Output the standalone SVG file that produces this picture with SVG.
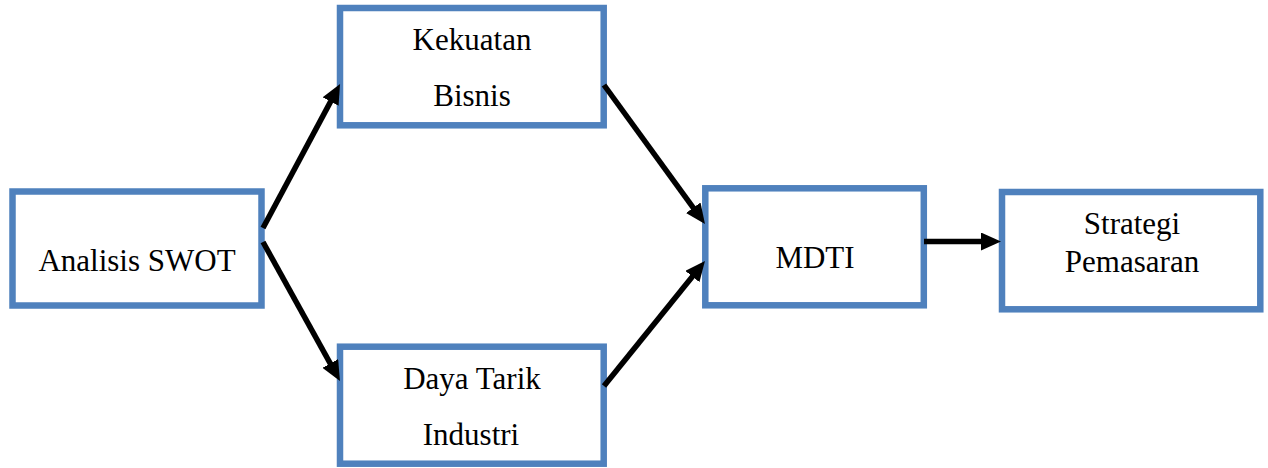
<svg xmlns="http://www.w3.org/2000/svg" width="1268" height="468" viewBox="0 0 1268 468">
  <style>
    .box { fill: #ffffff; stroke: #4F81BD; stroke-width: 6.5; }
    .conn { stroke: #000000; stroke-width: 5.5; fill: none; marker-end: url(#arrow); }
  </style>
  <defs>
    <marker id="arrow" markerUnits="userSpaceOnUse" markerWidth="20" markerHeight="18" refX="11" refY="9" orient="auto" viewBox="0 0 20 18">
      <path d="M0,0 L20,9 L0,18 z" fill="#000000"/>
    </marker>
  </defs>
  <rect width="1268" height="468" fill="#ffffff"/>
  <g font-family="Liberation Serif, DejaVu Serif, serif" font-size="31" fill="#000000" text-anchor="middle">
  <g id="node-swot">
    <rect class="box" x="12.5" y="191.5" width="249" height="114"/>
    <text x="137" y="271">Analisis SWOT</text>
  </g>
  <g id="node-kekuatan">
    <rect class="box" x="340" y="8" width="263.7" height="117.3"/>
    <text x="472" y="50">Kekuatan</text>
    <text x="472" y="106">Bisnis</text>
  </g>
  <g id="node-daya-tarik">
    <rect class="box" x="340" y="346.7" width="263.7" height="117"/>
    <text x="472" y="389">Daya Tarik</text>
    <text x="471" y="445">Industri</text>
  </g>
  <g id="node-mdti">
    <rect class="box" x="705.3" y="188.3" width="218.5" height="117"/>
    <text x="815" y="268">MDTI</text>
  </g>
  <g id="node-strategi">
    <rect class="box" x="1002" y="192" width="258.3" height="117.3"/>
    <text x="1132" y="234">Strategi</text>
    <text x="1132" y="272">Pemasaran</text>
  </g>
  </g>
  <g id="connectors">
    <line class="conn" x1="263" y1="228" x2="335.8" y2="91.9"/>
    <line class="conn" x1="263" y1="242" x2="335.6" y2="373.1"/>
    <line class="conn" x1="604" y1="85" x2="699.7" y2="216.7"/>
    <line class="conn" x1="604" y1="386" x2="699.3" y2="268"/>
    <line class="conn" x1="924" y1="241.5" x2="992" y2="241.5"/>
  </g>
</svg>
